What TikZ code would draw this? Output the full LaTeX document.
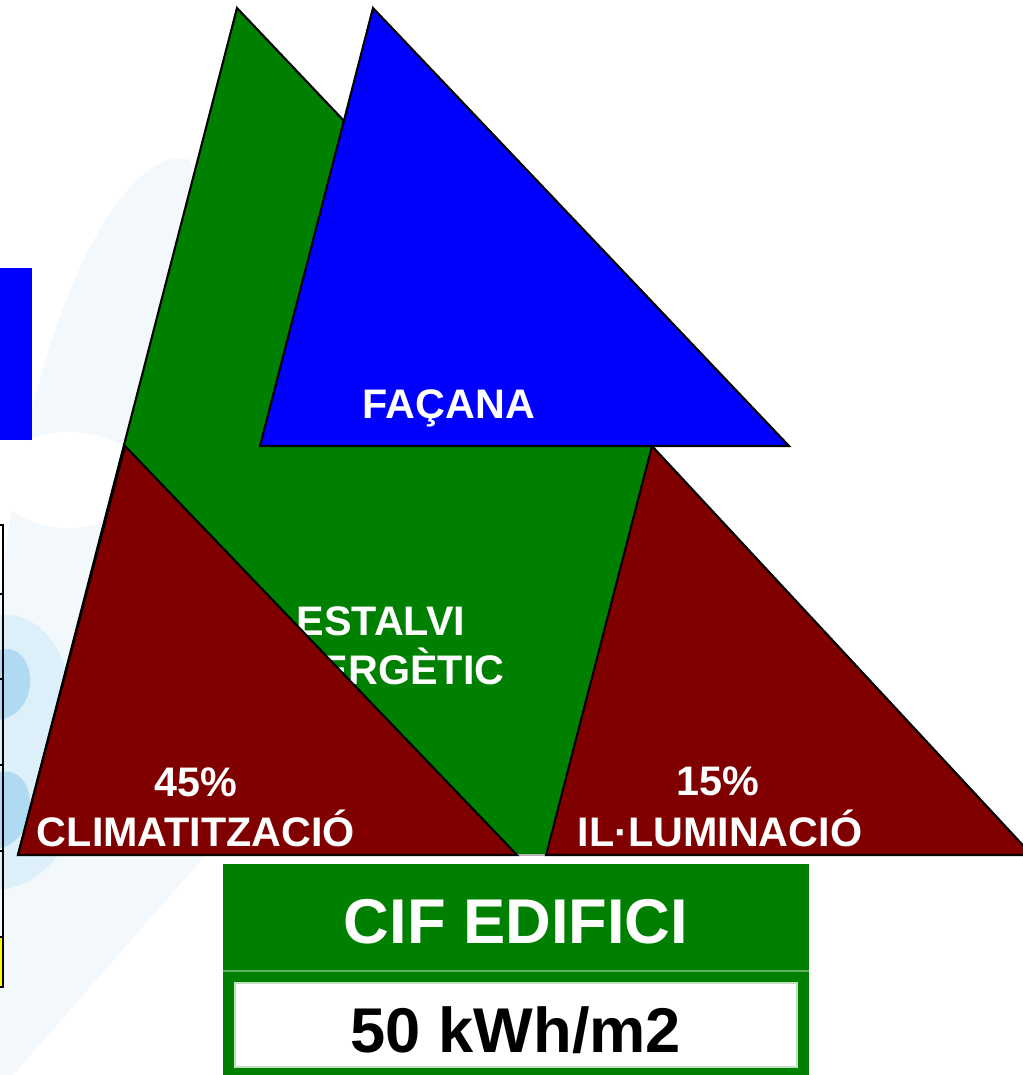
\documentclass[tikz,border=0pt]{standalone}
\usepackage{fontspec}
\setmainfont{Liberation Sans}
\definecolor{cgreen}{HTML}{008000}
\definecolor{cblue}{HTML}{0000FF}
\definecolor{cred}{HTML}{800000}
\definecolor{cyellow}{HTML}{FFFF00}
\definecolor{wmlight}{HTML}{F2F8FC}
\definecolor{wmmid}{HTML}{DDEFF8}
\definecolor{wmdark}{HTML}{AFDAF1}
\definecolor{divline}{HTML}{5FB35F}
\begin{document}
\begin{tikzpicture}[x=0.02cm,y=-0.02cm,
  outl/.style={draw=black,line width=1.2pt,line join=miter},
  wlabel/.style={text=white,font=\bfseries\fontsize{23.5}{28}\selectfont,anchor=base,inner sep=0pt},
  biglabel/.style={font=\bfseries\fontsize{36}{42}\selectfont,anchor=base,inner sep=0pt}]
\useasboundingbox (0,0) rectangle (1023,1075);
% watermark background
\fill[wmlight] (0,600) .. controls (30,300) and (130,140) .. (190,160) -- (230,300) -- (210,850) -- (13,1075) -- (0,1075) -- cycle;
\fill[white] (70,480) ellipse [x radius=75, y radius=48];
\fill[wmmid] (0,615) .. controls (60,610) and (90,700) .. (60,760) .. controls (90,800) and (70,880) .. (0,890) -- cycle;
\fill[wmdark] (0,650) .. controls (35,640) and (45,710) .. (0,720) -- cycle;
\fill[wmdark] (0,772) .. controls (40,765) and (40,840) .. (0,848) -- cycle;
% left blue rectangle
\fill[cblue] (0,268) rectangle (32,440);
% left chart box
\fill[cyellow] (0,937) rectangle (3,987);
\draw[black,line width=0.7pt] (-2,525) rectangle (3,987);
\foreach \yy in {594,679,765,851,937} \draw[black,line width=0.7pt] (0,\yy) -- (3,\yy);
% green shape
\fill[cgreen] (237,8) -- (400,180) -- (652,446) -- (545,855) -- (518,855) -- (18,855) -- cycle;
\draw[outl] (18,855) -- (237,8) -- (400,180);
\draw[gray!60,line width=1pt] (518,855) -- (545,855);
\node[wlabel] (estalvi) at (381,635) {ESTALVI};
\node[wlabel] (energetic) at (384,684) {ENERGÈTIC};
% blue triangle
\draw[outl,fill=cblue] (373,8) -- (260,446) -- (789,446) -- cycle;
\node[wlabel] (facana) at (449,418) {FAÇANA};
% red triangles
\draw[outl,fill=cred] (125,446) -- (18,855) -- (517,855) -- cycle;
\draw[outl,fill=cred] (652,446) -- (546,855) -- (1032,855) -- cycle;
\node[wlabel] (p45) at (196,796) {45\%};
\node[wlabel] (clima) at (196,846) {CLIMATITZACIÓ};
\node[wlabel] (p15) at (718,795) {15\%};
\node[wlabel] (illum) at (720,846) {IL·LUMINACIÓ};
% bottom box
\fill[cgreen] (223,864) rectangle (809,1080);
\draw[divline,line width=0.6pt] (223,971) -- (809,971);
\draw[divline!40,line width=0.8pt,fill=white] (235,983) rectangle (797,1067);
\node[biglabel,text=white] (cif) at (516,943) {CIF EDIFICI};
\node[biglabel,text=black] (kwh) at (516,1052) {50 kWh/m2};
\end{tikzpicture}
\end{document}
